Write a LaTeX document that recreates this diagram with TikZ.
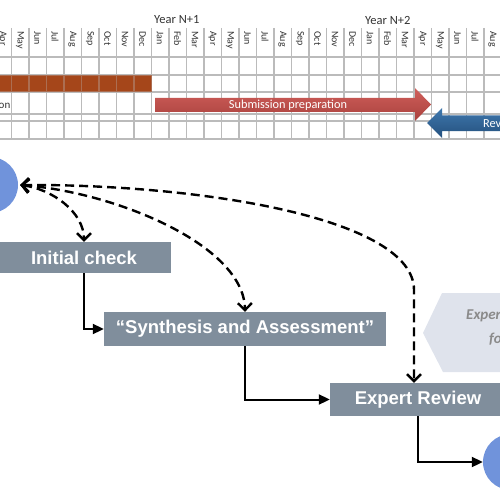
\documentclass[tikz,border=0pt]{standalone}
\usepackage{fontspec}
\setmainfont{Liberation Sans}
\newfontfamily\calib{Carlito}
\usetikzlibrary{arrows.meta}
\definecolor{boxgray}{HTML}{808E9C}
\definecolor{cblue}{HTML}{7093DB}
\definecolor{gridgray}{HTML}{BBBBBB}
\definecolor{barbrown}{HTML}{A5461A}
\definecolor{redtop}{HTML}{D0605C}
\definecolor{redbot}{HTML}{A9403C}
\definecolor{bluetop}{HTML}{3F78AE}
\definecolor{bluebot}{HTML}{24507D}
\definecolor{hexfill}{HTML}{DFE3EC}
\definecolor{hextext}{HTML}{8A8A8A}
\definecolor{lbltext}{HTML}{333333}
\begin{document}
\begin{tikzpicture}[x=1pt,y=-1pt,
  gridline/.style={draw=gridgray,line width=1.6pt},
  monthlbl/.style={rotate=-90,anchor=west,inner sep=0pt,text=lbltext,font=\calib\fontsize{10}{11}\selectfont},
  yearlbl/.style={anchor=west,inner sep=0pt,text=lbltext,font=\calib\fontsize{12.5}{14}\selectfont},
  procbox/.style={rectangle,fill=boxgray,text=white,inner sep=0pt,font=\fontsize{18.5}{20}\selectfont\bfseries},
  blob/.style={circle,fill=cblue,inner sep=0pt,minimum size=56pt},
  flow/.style={draw=black,line width=2pt,-{Triangle[length=11pt,width=10pt]}},
  feedback/.style={draw=black,line width=2.4pt,dash pattern=on 9pt off 5pt,
     {Straight Barb[length=7pt,width=14pt]}-{Straight Barb[length=7pt,width=14pt]}}
]
\useasboundingbox (0,0) rectangle (500,500);
\clip (0,0) rectangle (500,500);

% ---- Gantt chart ----
\fill[barbrown] (0,75) rectangle (151.8,92);
\foreach \k in {-1,...,28}
  \draw[gridline] ({11.3+17.5*\k},28) -- ({11.3+17.5*\k},139);
\foreach \yy in {57,75,92,114,121,139}
  \draw[gridline] (0,\yy) -- (500,\yy);
\fill[barbrown,opacity=0.65] (0,75) rectangle (151.8,92);

\foreach \m [count=\i from 0] in {Apr,May,Jun,Jul,Aug,Sep,Oct,Nov,Dec,Jan,Feb,Mar,Apr,May,Jun,Jul,Aug,Sep,Oct,Nov,Dec,Jan,Feb,Mar,Apr,May,Jun,Jul,Aug}
  \node[monthlbl] (m\i) at ({2.55+17.5*\i},31) {\m};
\node[yearlbl] (y1) at (154,20) {Year N+1};
\node[yearlbl] (y2) at (365,20) {Year N+2};

\node[anchor=east,inner sep=0pt,text=lbltext,font=\calib\fontsize{11}{12}\selectfont] (onlbl) at (10.5,106) {on};

\shade[top color=redtop,bottom color=redbot]
  (155,98) -- (415,98) -- (415,88) -- (431,104.5) -- (415,121) -- (415,112) -- (155,112) -- cycle;
\node[text=white,inner sep=0pt,font=\calib\fontsize{12.3}{13}\selectfont] (subm) at (288,105) {Submission preparation};

\shade[top color=bluetop,bottom color=bluebot]
  (510,115.5) -- (442,115.5) -- (442,108) -- (427,123) -- (442,138) -- (442,131) -- (510,131) -- cycle;
\node[anchor=west,text=white,inner sep=0pt,font=\calib\fontsize{12.3}{13}\selectfont] (rev) at (483,123.5) {Review};

% ---- process ----
\fill[hexfill] (442,293) -- (423,333) -- (443,372) -- (520,372) -- (540,333) -- (520,293) -- cycle;
\node[anchor=west,inner sep=0pt,text=hextext,font=\calib\fontsize{15}{16}\selectfont\bfseries\itshape] (fb1) at (466,316) {Expert};
\node[anchor=west,inner sep=0pt,text=hextext,font=\calib\fontsize{15}{16}\selectfont\bfseries\itshape] (fb2) at (489,339) {for};

\node[blob] (cL) at (-10,185) {};
\node[blob] (cR) at (511,462) {};

\node[procbox,minimum width=174pt,minimum height=31pt] (init) at (84,257.5) {Initial check};
\node[procbox,minimum width=282pt,minimum height=34pt] (synth) at (245,329) {“Synthesis and Assessment”};
\node[procbox,minimum width=176pt,minimum height=33pt] (expert) at (418,399.5) {Expert Review};

\draw[flow] (init.south) |- (synth.west);
\draw[flow] (synth.south) |- (expert.west);
\draw[flow] (expert.south) |- (cR.west);

\draw[feedback] ([xshift=2pt]cL.east) .. controls (52,189) and (84,212) .. (init.north);
\draw[feedback] ([xshift=2pt]cL.east) .. controls (115,192) and (244,245) .. (synth.north);
\draw[feedback] ([xshift=2pt]cL.east) .. controls (200,184) and (414,218) .. (414,290) -- ([xshift=-4pt]expert.north);
\end{tikzpicture}
\end{document}
